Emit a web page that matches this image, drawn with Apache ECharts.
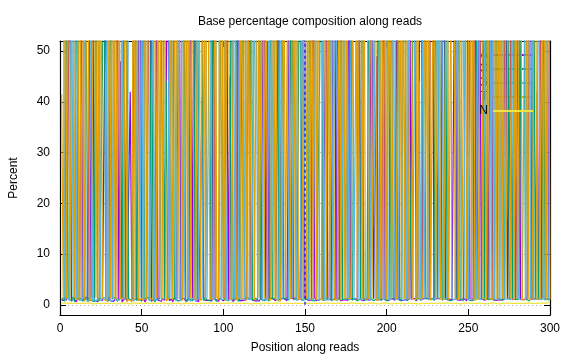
<!DOCTYPE html>
<html>
<head>
<meta charset="utf-8">
<script src="https://cdn.jsdelivr.net/npm/echarts@6/dist/echarts.min.js"></script>
<style>html,body{margin:0;padding:0;background:#fff}#c{width:576px;height:360px}</style>
</head>
<body>
<div id="c"></div>
<script>
const seriesNames = ['A', 'C', 'G', 'T', 'N'];
const xTicks = [0, 50, 100, 150, 200, 250, 300];
const yTicks = [0, 10, 20, 30, 40, 50];
const markerPosition = 150;

const baseA = [
1.2,0.8,1.5,0.9,1.1,78,0.7,1.3,1.0,0.6,1.4,0.9,64,1.2,0.8,1.6,1.0,58,1.3,85,0.9,1.1,0.6,1.4,1.2,0.8,1.0,72,0.7,1.5,
0.8,1.1,0.7,1.3,80,0.9,48,0.6,1.0,1.4,0.8,1.1,42,1.5,0.9,0.7,1.2,1.0,88,0.8,1.3,0.6,1.1,0.9,97,0.7,1.0,1.2,67,0.9,
1.0,0.7,1.3,0.9,1.1,83,0.8,1.2,0.6,1.4,1.0,0.9,71,1.1,0.8,1.3,0.7,1.0,1.2,90,0.9,60,0.8,1.1,0.7,1.0,41,1.3,0.9,1.2,
0.9,1.2,0.8,86,1.1,1.0,0.7,1.3,1.0,0.8,1.2,79,0.9,45,1.1,0.7,1.0,1.3,92,0.8,1.1,0.9,1.2,1.0,0.7,75,1.3,0.9,1.1,0.8,
1.0,0.8,1.3,1.1,84,0.9,52,1.0,0.7,1.4,1.1,0.8,1.0,73,1.2,0.9,1.3,1.0,0.8,1.1,91,1.2,0.9,1.4,1.0,0.7,1.1,0.8,66,1.3,
1.1,0.9,1.2,1.0,88,1.3,0.8,1.1,1.0,0.9,1.2,1.4,70,1.0,0.8,1.1,1.3,96,1.0,82,1.2,0.8,1.1,1.0,1.3,0.9,93,1.1,0.8,1.2,
0.9,1.1,87,1.0,1.2,0.8,1.3,1.0,0.9,1.1,76,1.2,1.0,49,1.3,1.1,0.9,91,1.0,1.2,0.8,1.1,1.3,1.0,0.9,68,1.2,1.0,0.8,1.1,
1.0,1.2,0.9,85,1.1,1.0,1.3,0.8,1.2,1.0,94,1.1,0.9,1.3,1.0,1.2,96,77,1.1,1.0,1.2,0.9,1.3,1.0,89,1.1,0.8,1.2,1.0,0.9,
1.1,83,1.0,1.2,0.9,1.1,1.3,1.0,0.8,90,1.2,1.0,1.1,97,1.3,1.0,74,1.2,1.1,0.9,1.0,1.3,1.2,86,1.0,1.1,0.9,1.2,1.0,1.3,
1.0,1.2,88,1.1,0.9,54,1.0,1.2,1.1,0.8,79,1.0,1.2,1.1,0.9,1.3,1.0,92,1.1,1.0,1.2,0.9,1.1,71,1.3,1.0,1.2,0.9,1.1,94
];
const baseC = [
0.9,1.4,0.7,83,1.2,1.0,0.8,1.6,0.6,91,1.1,0.9,1.3,0.7,1.2,68,0.8,1.5,0.9,1.1,0.6,87,1.3,0.7,1.0,47,76,0.9,1.2,0.8,
90,1.2,0.9,1.5,0.7,1.1,0.8,1.3,74,1.0,55,1.2,1.4,0.9,1.1,86,0.8,1.3,1.0,0.7,93,1.1,0.9,1.5,0.8,79,1.2,0.6,1.0,1.3,
1.2,0.9,87,1.1,44,1.4,1.0,0.7,95,1.2,1.3,0.8,1.0,0.9,1.5,72,1.1,0.7,1.3,1.0,0.8,1.2,84,0.9,1.1,91,52,0.8,1.4,1.0,
1.1,0.8,90,1.3,1.0,0.7,1.2,0.9,81,1.4,1.0,1.1,0.8,1.2,94,0.9,1.3,92,0.7,1.1,0.8,70,1.2,0.9,1.4,1.0,88,0.8,1.1,1.3,
0.9,92,1.1,1.3,0.8,1.0,1.2,0.7,86,1.1,1.0,1.3,95,1.2,0.8,78,1.1,1.0,1.4,0.9,1.2,95,1.0,0.8,1.3,43,83,0.9,1.2,1.0,
1.0,1.2,85,0.9,1.1,0.8,1.3,1.0,46,90,0.9,1.1,1.0,1.3,74,0.8,1.0,1.2,1.1,0.9,1.4,88,1.0,0.8,1.2,1.1,1.0,79,0.9,1.3,
1.2,0.8,1.0,1.1,93,0.9,1.2,1.0,72,1.3,1.1,0.8,1.0,1.2,89,0.9,1.1,1.3,1.0,0.8,84,1.2,97,1.1,1.0,1.3,95,0.8,1.2,1.0,
91,1.0,1.3,1.1,0.9,53,80,1.0,1.1,1.3,0.8,1.0,92,1.2,0.9,1.1,1.0,1.3,0.8,86,1.2,1.0,95,0.9,1.3,73,1.0,1.2,0.8,1.1,
1.0,1.1,1.2,89,1.0,1.3,0.9,1.1,93,1.0,1.2,0.8,1.1,1.0,75,1.2,1.0,1.1,59,0.9,88,1.0,1.2,1.1,0.9,1.0,92,1.3,1.1,1.0,
1.1,1.0,1.2,94,1.1,0.9,1.3,82,1.0,1.2,1.1,0.9,93,90,1.2,1.1,0.8,1.0,1.3,87,1.1,42,1.2,0.9,1.0,76,1.1,1.3,1.0,1.2
];
const baseG = [
56,88,1.1,0.8,1.3,0.9,93,0.7,90,1.0,70,1.2,0.8,1.4,81,1.1,0.6,1.0,95,0.9,1.3,0.7,1.2,66,0.8,1.1,1.5,0.9,89,1.0,
1.1,0.7,84,1.0,1.2,0.8,1.5,92,1.1,0.9,1.3,69,54,97,0.7,1.2,1.0,90,1.4,75,1.1,0.9,88,1.3,0.7,1.0,63,1.2,0.8,1.1,
93,1.1,0.8,1.3,1.0,0.9,77,1.2,1.1,89,0.7,92,1.4,0.8,96,1.2,0.9,82,1.1,0.7,1.3,1.0,0.8,68,1.2,1.1,1.0,0.9,85,1.3,
1.3,91,1.0,0.8,1.2,97,85,1.0,0.9,1.1,73,1.2,0.8,1.0,1.3,96,0.9,1.1,1.2,83,1.0,0.7,1.3,90,1.1,0.8,1.0,1.2,50,77,
1.2,1.0,89,0.8,1.1,1.3,0.9,94,1.0,1.2,71,1.1,1.4,0.8,87,1.0,0.9,94,80,1.1,0.8,1.3,1.0,92,0.9,1.2,1.1,76,1.0,0.8,
86,1.0,1.1,1.3,0.9,1.2,93,0.8,1.0,1.1,78,1.2,1.0,0.9,1.3,95,1.1,0.8,84,1.0,1.2,1.1,0.9,69,1.0,57,0.8,1.1,91,1.0,
1.0,90,1.2,0.9,1.1,1.3,93,81,1.2,0.8,1.1,94,1.0,1.3,0.9,74,1.2,1.0,1.1,88,0.9,1.0,1.3,96,1.1,0.8,1.0,1.2,79,0.9,
1.1,0.9,88,1.2,1.0,1.3,1.1,95,0.9,44,1.0,70,1.1,0.8,83,1.0,1.2,1.1,0.9,1.3,91,1.0,1.2,78,1.1,0.9,1.3,93,87,1.2,
1.2,1.0,92,1.1,1.3,47,86,1.2,1.0,1.1,0.9,79,1.0,1.2,1.1,94,1.0,0.9,1.2,71,1.1,1.0,97,0.9,90,1.2,1.0,1.1,83,1.0,
90,1.1,1.0,1.2,1.3,1.0,85,1.1,0.9,93,1.2,1.0,1.1,1.3,78,1.0,95,1.1,89,1.0,0.9,1.2,95,1.1,1.0,1.3,0.9,81,1.2,1.1
];
const baseT = [
41.5,1.0,96,1.2,94,0.8,1.1,97,1.5,1.3,0.9,96,1.2,93,0.7,1.0,92,0.7,1.1,0.8,96,1.4,95,0.9,91,1.4,1.0,1.2,0.8,94,
1.3,96,1.2,95,0.9,97,1.2,1.0,1.4,94,0.6,1.1,0.8,0.6,95,1.0,97,0.8,1.1,1.3,0.8,96,1.0,94,1.4,1.2,0.9,95,1.3,92,
1.4,96,1.1,94,0.8,1.0,1.3,95,0.9,1.1,96,1.0,1.2,97,0.8,1.0,95,1.1,94,1.3,96,1.5,1.0,1.2,97,0.8,1.1,95,0.9,96,
96,1.1,0.9,1.2,95,1.4,1.0,93,1.3,96,0.8,1.1,94,1.4,0.9,1.2,95,1.0,1.0,1.3,96,1.1,97,0.8,94,1.2,0.9,96,0.9,1.1,
97,1.3,1.0,95,1.2,94,1.2,1.1,0.9,97,1.2,93,0.9,1.0,0.8,1.1,96,1.2,1.0,97,1.1,0.9,95,1.2,96,1.1,1.0,1.3,1.1,95,
1.2,96,1.0,94,1.1,97,1.0,95,1.2,1.2,1.0,96,1.3,97,0.9,1.1,94,0.9,1.0,1.2,95,0.9,97,1.1,93,1.3,1.0,1.2,1.0,95,
96,1.1,1.0,95,1.2,97,1.0,1.0,1.3,96,1.1,0.9,94,0.8,1.0,1.2,95,1.1,96,1.0,1.2,92,0.9,0.9,95,1.1,1.0,96,1.2,94,
1.2,95,1.0,1.1,97,1.2,1.2,1.0,96,1.2,1.1,1.3,1.0,97,1.2,95,0.8,1.0,94,1.1,0.9,97,1.1,1.2,1.0,1.1,96,1.0,1.0,97,
95,1.2,1.0,1.1,96,1.0,1.0,97,1.2,1.0,96,1.1,93,0.9,1.0,1.2,1.3,95,1.3,1.1,1.0,94,1.3,1.2,1.0,96,1.1,95,1.2,93,
1.2,96,1.1,1.0,95,1.3,1.2,1.0,94,1.1,1.0,96,1.0,1.2,1.0,97,1.2,1.1,1.0,1.2,96,1.0,1.0,1.3,97,1.1,95,1.0,96,1.0
];
const baseN = [
0.3,0.3,0.4,0.3,0.3,0.2,0.3,0.4,0.3,0.3,0.3,0.4,0.3,0.2,0.3,0.3,0.4,0.3,0.3,0.3,0.2,0.3,0.3,0.4,0.3,0.3,0.3,0.2,0.3,0.3,
0.3,0.4,0.3,0.3,0.2,0.3,0.3,0.3,0.4,0.3,0.3,0.3,0.2,0.3,0.4,0.3,0.3,0.3,0.3,0.2,0.3,0.3,0.4,0.3,0.3,0.3,0.3,0.2,0.3,0.3,
0.3,0.3,0.4,0.3,0.3,0.3,0.2,0.3,0.3,0.4,0.3,0.3,0.3,0.3,0.2,0.3,0.4,0.3,0.3,0.3,0.3,0.3,0.2,0.3,0.3,0.4,0.3,0.3,0.3,0.3,
0.4,0.3,0.3,0.2,0.3,0.3,0.3,0.4,0.3,0.3,0.3,0.2,0.3,0.3,0.4,0.3,0.3,0.3,0.3,0.2,0.3,0.3,0.3,0.4,0.3,0.3,0.2,0.3,0.3,0.3,
0.3,0.3,0.2,0.3,0.4,0.3,0.3,0.3,0.3,0.2,0.3,0.3,0.4,0.3,0.3,0.3,0.3,0.2,0.3,0.3,0.3,0.4,0.3,0.3,0.3,0.2,0.3,0.3,0.3,0.4,
0.3,0.2,0.3,0.3,0.3,0.4,0.3,0.3,0.3,0.2,0.3,0.3,0.4,0.3,0.3,0.3,0.3,0.2,0.3,0.3,0.4,0.3,0.3,0.3,0.3,0.2,0.3,0.3,0.4,0.3,
0.3,0.3,0.3,0.4,0.3,0.3,0.2,0.3,0.3,0.3,0.4,0.3,0.3,0.3,0.2,0.3,0.3,0.3,0.4,0.3,0.3,0.3,0.2,0.3,0.3,0.4,0.3,0.3,0.3,0.3,
0.2,0.3,0.3,0.4,0.3,0.3,0.3,0.3,0.2,0.3,0.3,0.4,0.3,0.3,0.3,0.2,0.3,0.3,0.3,0.4,0.3,0.3,0.3,0.2,0.3,0.3,0.4,0.3,0.3,0.3,
0.3,0.4,0.3,0.3,0.2,0.3,0.3,0.3,0.4,0.3,0.3,0.3,0.3,0.2,0.3,0.3,0.4,0.3,0.3,0.3,0.2,0.3,0.3,0.3,0.4,0.3,0.3,0.3,0.2,0.3,
0.3,0.3,0.4,0.3,0.3,0.2,0.3,0.3,0.3,0.4,0.3,0.3,0.3,0.2,0.3,0.3,0.4,0.3,0.3,0.3,0.3,0.2,0.3,0.3,0.4,0.3,0.3,0.3,0.5,0.6
];

const colors = ['#9400d3', '#009e73', '#56b4e9', '#e69f00', '#f0e442'];
const allValues = [baseA, baseC, baseG, baseT, baseN];
const FONT = '"Liberation Sans", Arial, sans-serif';

function toPoints(vals) {
  return vals.map((v, i) => [i + 1, v]);
}

const chart = echarts.init(document.getElementById('c'), null, { renderer: 'canvas' });

const series = seriesNames.map((name, k) => ({
  name: name,
  type: 'line',
  data: toPoints(allValues[k]),
  showSymbol: false,
  symbol: 'none',
  lineStyle: { color: colors[k], width: 1.2 },
  itemStyle: { color: colors[k] },
  z: 2,
  clip: true,
  silent: true
}));
series.push({
  name: 'marker',
  type: 'line',
  data: [[markerPosition, 0], [markerPosition, 100]],
  showSymbol: false,
  symbol: 'none',
  lineStyle: { color: '#0000ff', width: 1.2, type: [3, 3] },
  z: 6,
  silent: true
});

const axisLineStyle = { color: '#000', width: 1.2 };
const legendCommon = {
  orient: 'vertical', right: 43, align: 'right', icon: 'rect', padding: 0,
  itemWidth: 40, itemHeight: 2, itemGap: 0,
  textStyle: { fontFamily: FONT, fontSize: 12, color: '#000', lineHeight: 14, height: 14 },
  selectedMode: false
};

chart.setOption({
  animation: false,
  backgroundColor: '#fff',
  title: {
    text: 'Base percentage composition along reads',
    left: 305, top: 11, textAlign: 'center',
    textStyle: { fontFamily: FONT, fontSize: 12, fontWeight: 'normal', color: '#000' }
  },
  legend: [
    Object.assign({}, legendCommon, { data: ['A', 'C', 'G', 'T'], top: 48, z: 1 }),
    Object.assign({}, legendCommon, { data: ['N'], top: 104, z: 8 })
  ],
  grid: { left: 60, right: 26, top: 41, bottom: 45, containLabel: false },
  xAxis: [
    {
      type: 'value', min: 0, max: 300, interval: 50, position: 'bottom',
      name: 'Position along reads', nameLocation: 'middle', nameGap: 27,
      nameTextStyle: { fontFamily: FONT, fontSize: 12, color: '#000' },
      axisLine: { show: true, onZero: false, lineStyle: axisLineStyle },
      axisTick: { show: true, inside: true, length: 6, lineStyle: { color: '#000' } },
      axisLabel: { fontFamily: FONT, fontSize: 12, color: '#000', margin: 8 },
      splitLine: { show: false }
    },
    {
      type: 'value', min: 0, max: 300, interval: 50, position: 'top',
      axisLine: { show: true, onZero: false, lineStyle: axisLineStyle },
      axisTick: { show: true, inside: true, length: 6, lineStyle: { color: '#000' } },
      axisLabel: { show: false },
      splitLine: { show: false }
    }
  ],
  yAxis: [
    {
      type: 'value', min: -2, max: 52, position: 'left',
      name: 'Percent', nameLocation: 'middle', nameGap: 40,
      nameTextStyle: { fontFamily: FONT, fontSize: 12, color: '#000' },
      axisLine: { show: true, onZero: false, lineStyle: axisLineStyle },
      axisTick: { show: true, inside: true, length: 6, lineStyle: { color: '#000' }, customValues: yTicks },
      axisLabel: { fontFamily: FONT, fontSize: 12, color: '#000', margin: 10, customValues: yTicks },
      splitLine: { show: true, lineStyle: { color: '#b0b0b0', type: [1, 3], width: 1 } }
    },
    {
      type: 'value', min: -2, max: 52, position: 'right',
      axisLine: { show: true, onZero: false, lineStyle: axisLineStyle },
      axisTick: { show: true, inside: true, length: 6, lineStyle: { color: '#000' }, customValues: yTicks },
      axisLabel: { show: false, customValues: yTicks },
      splitLine: { show: false }
    }
  ],
  series: series
});
</script>
</body>
</html>
